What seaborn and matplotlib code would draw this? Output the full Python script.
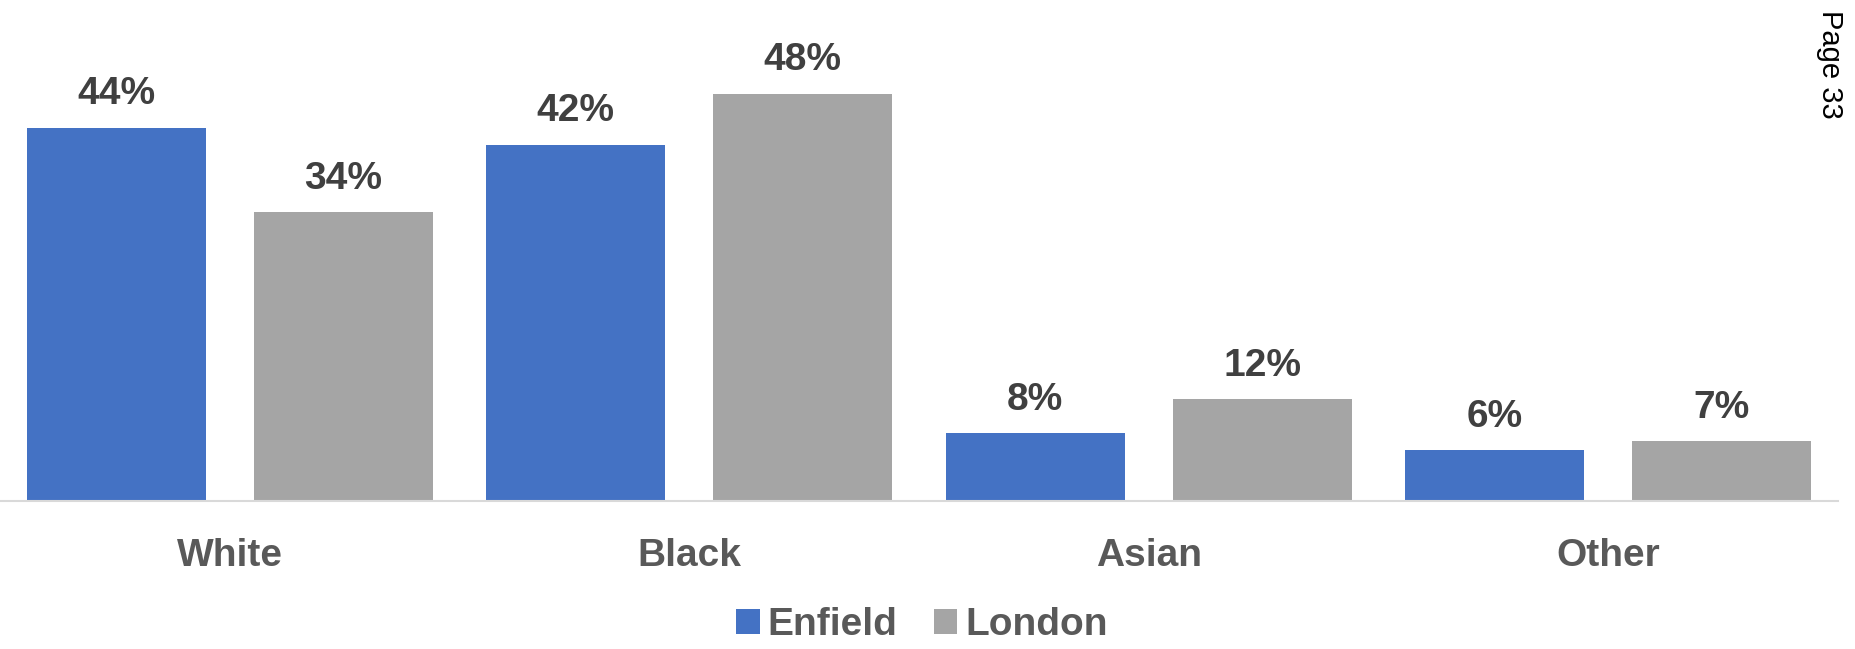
import matplotlib
matplotlib.use("Agg")
import matplotlib.pyplot as plt
import seaborn as sns
import pandas as pd
from matplotlib.patches import Patch

categories = ["White", "Black", "Asian", "Other"]
series_names = ["Enfield", "London"]
enfield = [44, 42, 8, 6]
london = [34, 48, 12, 7]
colors = ["#4472C4", "#A5A5A5"]

df = pd.DataFrame({
    "group": categories * 2,
    "area": [series_names[0]] * 4 + [series_names[1]] * 4,
    "value": enfield + london,
})

sns.set_theme(style="white")
plt.rcParams["font.family"] = ["Liberation Sans", "DejaVu Sans"]

fig = plt.figure(figsize=(18.55, 6.49), dpi=100)
ax = fig.add_axes([0, 0.2285, 1838 / 1855, 0.7715])

sns.barplot(data=df, x="group", y="value", hue="area", order=categories,
            hue_order=series_names, palette=colors, width=0.988, gap=0.21,
            saturation=1, legend=False, ax=ax, linewidth=0)

for cont in ax.containers:
    ax.bar_label(cont, labels=[f"{int(round(b.get_height()))}%" for b in cont],
                 padding=11, fontsize=28, fontweight="bold", color="#404040")

ax.set_xlim(-0.5, 3.5)
ax.set_ylim(0, 59.05)
ax.set_xlabel("")
ax.set_ylabel("")
ax.set_yticks([])
for s in ["top", "right", "left"]:
    ax.spines[s].set_visible(False)
ax.spines["bottom"].set_color("#D9D9D9")
ax.spines["bottom"].set_linewidth(1.5)
ax.tick_params(axis="x", length=0, pad=27, labelsize=28, labelcolor="#595959")
for t in ax.get_xticklabels():
    t.set_fontweight("bold")

handles = [Patch(facecolor=c, edgecolor="none") for c in colors]
fig.legend(handles, series_names, loc="center", bbox_to_anchor=(922 / 1855, 0.037),
           ncol=2, frameon=False, prop={"size": 28, "weight": "bold"},
           labelcolor="#595959", handlelength=0.6, handleheight=0.6,
           handletextpad=0.2, columnspacing=0.95, borderaxespad=0, borderpad=0)

fig.text(1830 / 1855, 1 - 10 / 649, "Page 33", rotation=270, ha="center", va="top",
         fontsize=21, color="black")

fig.savefig("out.png", dpi=100)
